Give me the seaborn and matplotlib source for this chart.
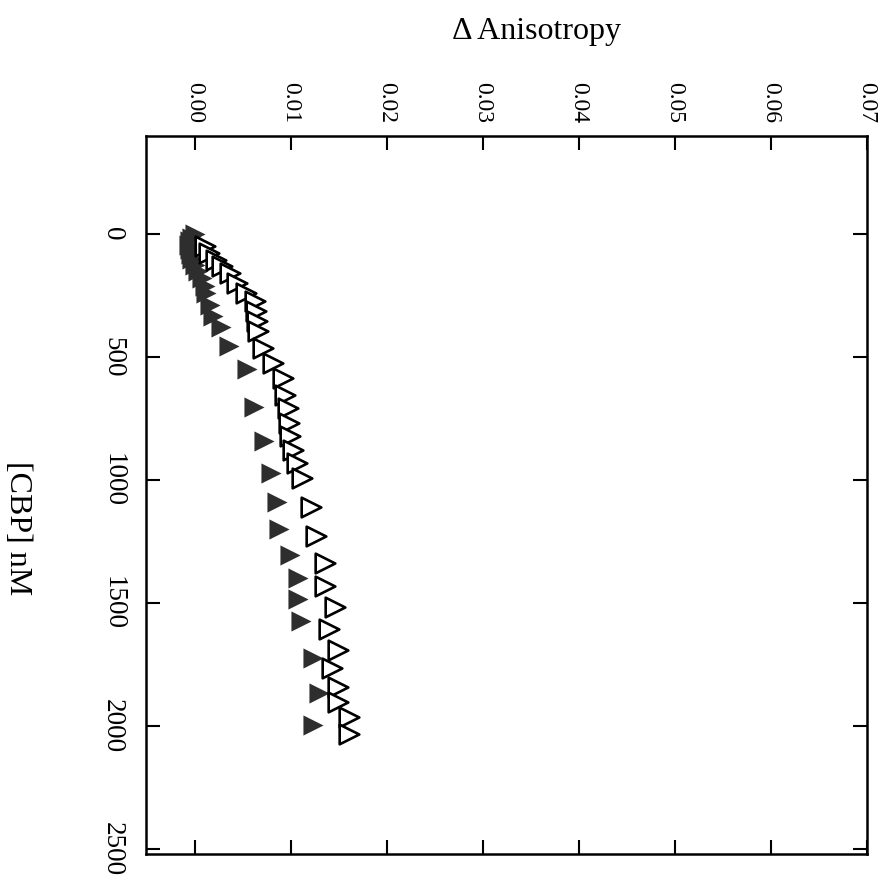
import matplotlib
matplotlib.use("Agg")
import matplotlib.pyplot as plt
import seaborn as sns
import pandas as pd

# Titration of CBP: change in anisotropy versus [CBP] (nM)
cbp_filled = [0, 15, 30, 45, 60, 80, 100, 125, 150, 180, 210, 240, 290, 335,
              380, 455, 550, 705, 842, 970, 1090, 1200, 1305, 1400, 1485,
              1575, 1725, 1865, 1995]
aniso_filled = [0.0000, -0.0003, -0.0005, -0.0006, -0.0005, -0.0004, -0.0003,
                0.0000, 0.0003, 0.0007, 0.0010, 0.0012, 0.0016, 0.0019,
                0.0027, 0.0035, 0.0054, 0.0062, 0.0072, 0.0079, 0.0085,
                0.0088, 0.0099, 0.0107, 0.0107, 0.0110, 0.0123, 0.0129,
                0.0123]

cbp_open = [50, 78, 105, 132, 160, 200, 240, 274, 315, 355, 396, 463, 524,
            585, 653, 707, 767, 820, 880, 930, 993, 1110, 1227, 1338, 1430,
            1517, 1605, 1690, 1765, 1842, 1904, 1963, 2031]
aniso_open = [0.0010, 0.0015, 0.0022, 0.0028, 0.0036, 0.0044, 0.0053, 0.0063,
              0.0064, 0.0065, 0.0066, 0.0071, 0.0081, 0.0092, 0.0094, 0.0097,
              0.0098, 0.0099, 0.0102, 0.0106, 0.0112, 0.0121, 0.0126, 0.0135,
              0.0135, 0.0146, 0.0140, 0.0149, 0.0143, 0.0149, 0.0149, 0.0160,
              0.0160]

cbp_ticks = [0, 500, 1000, 1500, 2000, 2500]
aniso_ticks = [0.00, 0.01, 0.02, 0.03, 0.04, 0.05, 0.06, 0.07]

sns.set_theme(style="white")
plt.rcParams["font.family"] = ["Liberation Serif", "DejaVu Serif"]

W, H = 890, 888
fig = plt.figure(figsize=(W / 100, H / 100), dpi=100)
ax = fig.add_axes([146 / W, 1 - 854 / H, (867 - 146) / W, (854 - 136) / H])

df_filled = pd.DataFrame({"cbp": cbp_filled, "aniso": aniso_filled})
df_open = pd.DataFrame({"cbp": cbp_open, "aniso": aniso_open})

sns.scatterplot(data=df_filled, x="aniso", y="cbp", marker=">", s=210,
                color="#2e2e2e", linewidth=0, ax=ax, zorder=3)
sns.scatterplot(data=df_open, x="aniso", y="cbp", marker=">", s=200,
                color="white", edgecolor="black", linewidth=1.9, ax=ax,
                zorder=4)

ax.set_xlim(-0.0051, 0.0697)
ax.set_ylim(2520, -398)

ax.set_xticks(aniso_ticks)
ax.set_xticklabels([f"{t:.2f}" for t in aniso_ticks])
ax.set_yticks(cbp_ticks)
ax.set_yticklabels([str(t) for t in cbp_ticks])

ax.tick_params(axis="both", direction="in", length=10, width=1.5,
               color="black", top=True, bottom=True, left=True, right=True,
               labelcolor="black")
ax.tick_params(axis="x", labeltop=True, labelbottom=False, pad=9,
               labelsize=17)
ax.tick_params(axis="y", labelleft=True, labelright=False, pad=15,
               labelsize=19.5)

for lab in ax.get_xticklabels():
    lab.set_rotation(270)
    lab.set_ha("center")
    lab.set_va("bottom")
for lab in ax.get_yticklabels():
    lab.set_rotation(270)
    lab.set_ha("right")
    lab.set_va("center")

for sp in ax.spines.values():
    sp.set_visible(True)
    sp.set_color("black")
    sp.set_linewidth(1.8)

ax.xaxis.set_label_position("top")
ax.set_xlabel("Δ Anisotropy", fontsize=23, color="black")
ax.xaxis.set_label_coords((537 - 146) / 721, (854 - 32) / 718)
ax.xaxis.label.set_va("center")
ax.xaxis.label.set_ha("center")

ax.set_ylabel("[CBP] nM", fontsize=23, color="black", rotation=270)
ax.yaxis.set_label_coords((17 - 146) / 721, (854 - 528) / 718)
ax.yaxis.label.set_va("center")
ax.yaxis.label.set_ha("center")

ax.set_facecolor("white")
fig.patch.set_facecolor("white")
fig.savefig("out.png", dpi=100)
